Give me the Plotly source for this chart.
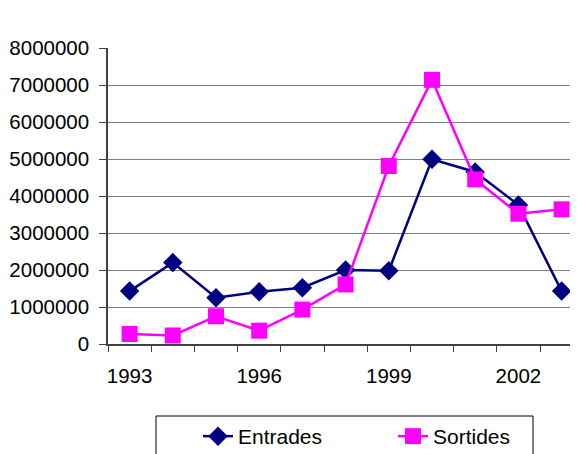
import plotly.graph_objects as go

years = [1993, 1994, 1995, 1996, 1997, 1998, 1999, 2000, 2001, 2002, 2003]
entrades = [1430000, 2200000, 1250000, 1410000, 1520000, 2000000, 1980000, 4990000, 4650000, 3760000, 1430000]
sortides = [270000, 230000, 750000, 360000, 930000, 1610000, 4810000, 7140000, 4450000, 3520000, 3640000]
tick_years = [1993, 1996, 1999, 2002]
y_ticks = [0, 1000000, 2000000, 3000000, 4000000, 5000000, 6000000, 7000000, 8000000]

FONT = "Arial, Liberation Sans, sans-serif"
W, H = 570, 446  # page body has an 8px margin
L, R, T, B = 100, 0, 40, 110
PW, PH = W - L - R, H - T - B

fig = go.Figure()
fig.add_trace(go.Scatter(
    x=years, y=entrades, name="Entrades", mode="lines+markers",
    line=dict(color="#000080", width=2.5),
    marker=dict(symbol="diamond", size=15, color="#000080"),
))
fig.add_trace(go.Scatter(
    x=years, y=sortides, name="Sortides", mode="lines+markers",
    line=dict(color="#FF00FF", width=2.5),
    marker=dict(symbol="square", size=16, color="#FF00FF"),
))

# legend frame (figure pixel coords -> paper coords)
lx0, lx1, ly0, ly1 = 148, 525, 408, 452
fig.add_shape(
    type="rect", xref="paper", yref="paper",
    x0=(lx0 - L) / PW, x1=(lx1 - L) / PW,
    y0=(T + PH - ly0) / PH, y1=(T + PH - ly1) / PH,
    line=dict(color="black", width=1), fillcolor="rgba(0,0,0,0)",
)

fig.update_layout(
    width=W, height=H,
    margin=dict(l=L, r=R, t=T, b=B, autoexpand=False),
    paper_bgcolor="white", plot_bgcolor="white",
    font=dict(family=FONT, size=20, color="black"),
    showlegend=True,
    legend=dict(
        orientation="h", xref="container", yref="container",
        x=148 / W, y=1 - 408 / H, xanchor="left", yanchor="top",
        borderwidth=0, bgcolor="rgba(0,0,0,0)",
        font=dict(family=FONT, size=21), indentation=42,
        entrywidth=108,
    ),
)
fig.update_xaxes(
    range=[1992.5, 1992.5 + PW / 43.2],
    tickvals=tick_years, ticktext=[str(t) for t in tick_years],
    ticks="", showgrid=False, zeroline=False, automargin=False,
    showline=True, linecolor="#404040", linewidth=1.5,
    tickfont=dict(size=20.5), ticklabelstandoff=13,
    minor=dict(tickvals=[1992.5 + i for i in range(12)], ticks="outside",
               ticklen=6, tickcolor="#404040", tickwidth=1, showgrid=False),
)
fig.update_yaxes(
    range=[0, 8000000], tickvals=y_ticks, ticktext=[str(v) for v in y_ticks],
    ticks="outside", ticklen=7, tickcolor="#404040", automargin=False,
    showgrid=True, gridcolor="#808080", gridwidth=1, zeroline=False,
    showline=True, linecolor="#404040", linewidth=1.5,
    tickfont=dict(size=20.5), ticklabelstandoff=6,
)
fig.write_html("out.html")
